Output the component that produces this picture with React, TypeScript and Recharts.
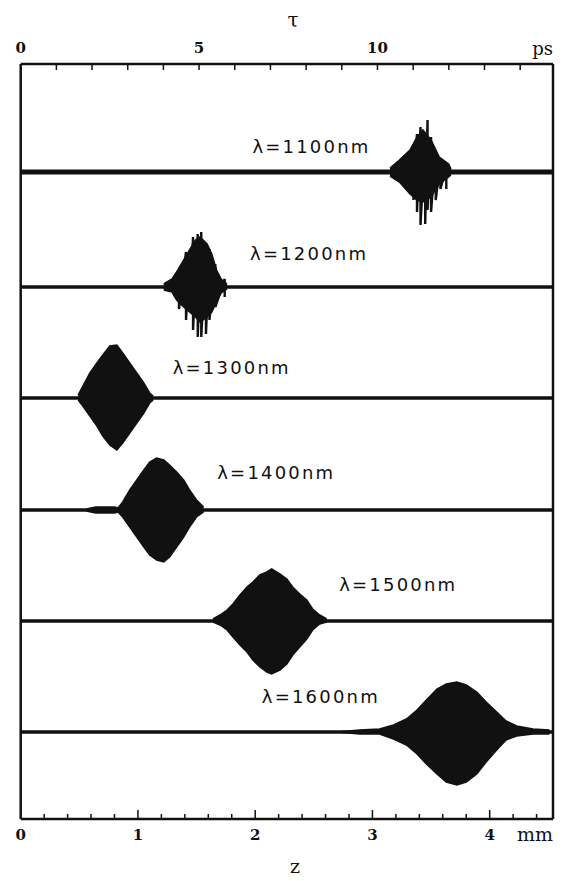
import { Area, ComposedChart, Label, Line, ReferenceDot, XAxis, YAxis } from "recharts";

// axes
const zTicks = [0, 0.2, 0.4, 0.6, 0.8, 1, 1.2, 1.4, 1.6, 1.8, 2, 2.2, 2.4, 2.6, 2.8, 3, 3.2, 3.4, 3.6, 3.8, 4, 4.2, 4.4];
const tauTicks = [0, 1, 2, 3, 4, 5, 6, 7, 8, 9, 10, 11, 12, 13, 14];
const tauLabelled = [0, 5, 10];

// traces, top to bottom
const wavelengths = ["λ=1100nm", "λ=1200nm", "λ=1300nm", "λ=1400nm", "λ=1500nm", "λ=1600nm"];
const baselines = [647, 532, 421, 309, 198, 87];
const labelZ = [2.48, 2.46, 1.8, 2.18, 3.22, 2.56];
const labelY = [672, 565, 451, 346, 234, 122];

// 1100 nm
const p1100Z = [3.15, 3.23, 3.32, 3.38, 3.43, 3.5, 3.57, 3.65, 3.67];
const p1100Up = [4, 12, 22, 35, 42, 32, 15, 8, 3];
const p1100Lo = [4, 10, 22, 28, 30, 25, 12, 5, 3];
const f1100Z = [3.35, 3.38, 3.41, 3.45, 3.47, 3.5, 3.54, 3.58, 3.63];
const f1100Up = [28, 38, 45, 35, 52, 35, 22, 12, 5];
const f1100Lo = [28, 40, 53, 52, 38, 40, 28, 17, 17];

// 1200 nm
const p1200Z = [1.22, 1.29, 1.33, 1.39, 1.44, 1.49, 1.53, 1.59, 1.63, 1.67, 1.71, 1.76];
const p1200Up = [3, 8, 15, 27, 37, 47, 50, 43, 33, 17, 8, 3];
const p1200Lo = [3, 5, 13, 20, 25, 30, 35, 30, 25, 15, 6, 2];
const f1200Z = [1.35, 1.41, 1.44, 1.47, 1.51, 1.54, 1.58, 1.61, 1.66, 1.74];
const f1200Up = [17, 35, 30, 50, 53, 55, 43, 38, 23, 8];
const f1200Lo = [22, 33, 23, 43, 50, 50, 47, 33, 20, 10];

// 1300 nm
const p1300Z = [0.49, 0.53, 0.59, 0.65, 0.7, 0.76, 0.82, 0.87, 0.93, 0.99, 1.05, 1.1, 1.13];
const p1300Up = [3, 12, 25, 35, 43, 52, 53, 45, 35, 25, 15, 5, 2];
const p1300Lo = [2, 8, 18, 28, 38, 47, 52, 45, 35, 25, 15, 5, 2];

// 1400 nm
const p1400Z = [0.56, 0.64, 0.72, 0.8, 0.83, 0.87, 0.93, 0.99, 1.05, 1.1, 1.16, 1.22, 1.27, 1.33, 1.39, 1.44, 1.5, 1.56];
const p1400Up = [1, 3, 3, 3, 2, 8, 20, 30, 40, 48, 52, 50, 45, 38, 30, 20, 10, 3];
const p1400Lo = [1, 3, 3, 3, 2, 7, 17, 27, 37, 45, 50, 52, 47, 37, 27, 17, 7, 2];

// 1500 nm
const p1500Z = [1.64, 1.7, 1.76, 1.81, 1.87, 1.93, 1.98, 2.04, 2.1, 2.14, 2.21, 2.27, 2.32, 2.38, 2.44, 2.49, 2.55, 2.61];
const p1500Up = [2, 6, 11, 17, 26, 34, 39, 46, 49, 52, 47, 42, 34, 27, 21, 12, 6, 2];
const p1500Lo = [1, 4, 9, 16, 24, 31, 39, 46, 51, 53, 49, 43, 34, 26, 18, 9, 3, 1];

// 1600 nm
const p1600Z = [2.7, 2.89, 3.06, 3.18, 3.29, 3.38, 3.46, 3.55, 3.63, 3.72, 3.8, 3.89, 3.97, 4.06, 4.14, 4.23, 4.37, 4.51];
const p1600Up = [0, 2, 3, 7, 13, 22, 32, 43, 48, 50, 47, 40, 30, 20, 11, 6, 3, 2];
const p1600Lo = [0, 2, 2, 7, 13, 22, 32, 42, 50, 53, 50, 42, 30, 18, 8, 4, 2, 2];

const Z_MAX = 4.54;
const TAU_MAX = 14.92;
const ink = "#111";

const packets = [
  { z: p1100Z, up: p1100Up, lo: p1100Lo },
  { z: p1200Z, up: p1200Up, lo: p1200Lo },
  { z: p1300Z, up: p1300Up, lo: p1300Lo },
  { z: p1400Z, up: p1400Up, lo: p1400Lo },
  { z: p1500Z, up: p1500Up, lo: p1500Lo },
  { z: p1600Z, up: p1600Up, lo: p1600Lo },
];
const fringes = [
  { z: f1100Z, up: f1100Up, lo: f1100Lo },
  { z: f1200Z, up: f1200Up, lo: f1200Lo },
];

const envelope = (p: { z: number[]; up: number[]; lo: number[] }, base: number) =>
  p.z.map((z, i) => ({ z, band: [base - p.lo[i], base + p.up[i]] }));

const zigzag = (f: { z: number[]; up: number[]; lo: number[] }, base: number) =>
  f.z.flatMap((z, i) => [
    { z, y: base + f.up[i] },
    { z, y: base - f.lo[i] },
  ]);

const tickFont = { fontFamily: "'DejaVu Serif', serif", fontSize: 15, fontWeight: 700, fill: ink };

function ZTick(props: any) {
  const { x, y, payload } = props;
  const v = payload.value;
  const major = Number.isInteger(v);
  return (
    <g>
      {v > 0 && <line x1={x} x2={x} y1={y} y2={y - (major ? 9 : 5)} stroke={ink} strokeWidth={1.5} />}
      {major && (
        <text x={x} y={y + 21} textAnchor="middle" {...tickFont}>
          {v}
        </text>
      )}
    </g>
  );
}

function TauTick(props: any) {
  const { x, y, payload } = props;
  const v = payload.value;
  return (
    <g>
      {v > 0 && <line x1={x} x2={x} y1={y} y2={y + 6} stroke={ink} strokeWidth={1.5} />}
      {tauLabelled.includes(v) && (
        <text x={x} y={y - 11} textAnchor="middle" {...tickFont}>
          {v}
        </text>
      )}
    </g>
  );
}

const frame = { stroke: ink, strokeWidth: 2.5 };

export default function App() {
  return (
    <div style={{ position: "relative", width: 555, height: 865, background: "#fff" }}>
      <ComposedChart width={555} height={865} margin={{ top: 26, right: 9, bottom: 24, left: 11.7 }}>
        <XAxis
          xAxisId="z"
          type="number"
          dataKey="z"
          domain={[0, Z_MAX]}
          ticks={zTicks}
          tick={<ZTick />}
          tickLine={false}
          tickSize={0}
          tickMargin={0}
          interval={0}
          height={30}
          axisLine={frame}
          allowDataOverflow
        >
          <Label value="mm" position="insideRight" offset={0} fill={ink} fontSize={19} fontFamily="'DejaVu Serif', serif" />
        </XAxis>
        <XAxis
          xAxisId="tau"
          orientation="top"
          type="number"
          dataKey="tau"
          domain={[0, TAU_MAX]}
          ticks={tauTicks}
          tick={<TauTick />}
          tickLine={false}
          tickSize={0}
          tickMargin={0}
          interval={0}
          height={30}
          axisLine={frame}
          allowDataOverflow
        >
          <Label value="ps" position="insideRight" offset={0} fill={ink} fontSize={18} fontFamily="'DejaVu Serif', serif" />
        </XAxis>
        <YAxis yAxisId="l" type="number" domain={[0, 755]} ticks={[0, 755]} tick={false} tickLine={false} width={1} axisLine={frame} />
        <YAxis yAxisId="r" orientation="right" type="number" domain={[0, 755]} ticks={[0, 755]} tick={false} tickLine={false} width={1} axisLine={frame} />

        {/* flat baselines, drawn against the delay axis */}
        {baselines.map((base, i) => (
          <Line
            key={`base-${i}`}
            xAxisId="tau"
            yAxisId="r"
            data={[
              { tau: 0, y: base },
              { tau: TAU_MAX, y: base },
            ]}
            dataKey="y"
            type="linear"
            stroke={ink}
            strokeWidth={i === 0 ? 5 : 3.5}
            dot={false}
            isAnimationActive={false}
          />
        ))}

        {packets.map((p, i) => (
          <Area
            key={`env-${i}`}
            xAxisId="z"
            yAxisId="l"
            data={envelope(p, baselines[i])}
            dataKey="band"
            type="linear"
            stroke={ink}
            strokeWidth={1.5}
            fill={ink}
            fillOpacity={1}
            dot={false}
            activeDot={false}
            isAnimationActive={false}
          />
        ))}

        {fringes.map((f, i) => (
          <Line
            key={`fr-${i}`}
            xAxisId="z"
            yAxisId="l"
            data={zigzag(f, baselines[i])}
            dataKey="y"
            type="linear"
            stroke={ink}
            strokeWidth={2.4}
            dot={false}
            isAnimationActive={false}
          />
        ))}

        {wavelengths.map((w, i) => (
          <ReferenceDot
            key={`lab-${i}`}
            xAxisId="z"
            yAxisId="l"
            x={labelZ[i]}
            y={labelY[i]}
            r={0}
            fill="none"
            stroke="none"
            ifOverflow="visible"
          >
            <Label value={w} position="center" fill={ink} fontSize={18} letterSpacing={2.2} fontFamily="'DejaVu Sans', sans-serif" />
          </ReferenceDot>
        ))}
      </ComposedChart>
      <span style={{ position: "absolute", left: 285, top: 12, transform: "translate(-50%, -50%)", fontFamily: "'DejaVu Serif', serif", fontSize: 20, color: ink }}>
        τ
      </span>
      <span style={{ position: "absolute", left: 287, top: 858, transform: "translate(-50%, -50%)", fontFamily: "'DejaVu Serif', serif", fontSize: 19, color: ink }}>
        z
      </span>
    </div>
  );
}
